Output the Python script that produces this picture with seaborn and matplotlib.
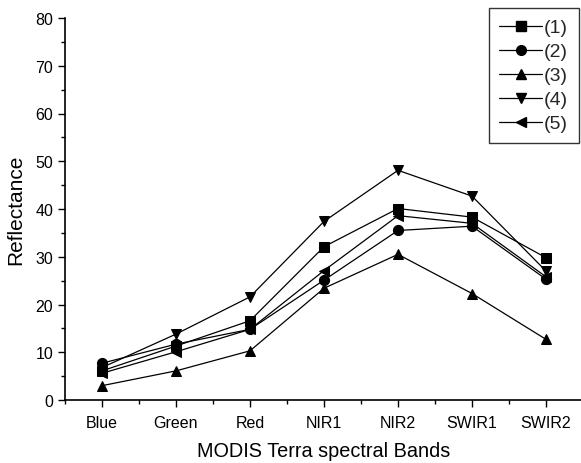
import matplotlib
matplotlib.use("Agg")
import matplotlib.pyplot as plt
import seaborn as sns
import pandas as pd
from matplotlib.ticker import MultipleLocator
from matplotlib.lines import Line2D

bands = ["Blue", "Green", "Red", "NIR1", "NIR2", "SWIR1", "SWIR2"]
s1 = [6.1, 11.3, 16.6, 32.1, 40.1, 38.3, 29.8]
s2 = [7.7, 11.7, 14.8, 25.1, 35.5, 36.4, 25.3]
s3 = [3.0, 6.1, 10.3, 23.4, 30.5, 22.3, 12.7]
s4 = [6.8, 13.8, 21.6, 37.4, 48.1, 42.7, 27.0]
s5 = [5.6, 10.1, 14.8, 27.1, 38.6, 37.0, 25.8]
series_names = ["(1)", "(2)", "(3)", "(4)", "(5)"]
series_vals = [s1, s2, s3, s4, s5]

rows = []
for name, vals in zip(series_names, series_vals):
    for i, (b, v) in enumerate(zip(bands, vals)):
        rows.append({"band": b, "pos": i, "series": name, "value": v})
df = pd.DataFrame(rows)

sns.set_theme(style="ticks")
plt.rcParams["font.family"] = ["Liberation Sans", "DejaVu Sans"]

fig = plt.figure(figsize=(5.81, 4.64), dpi=100)
ax = fig.add_axes([65 / 581, 1 - 401 / 464, 518 / 581, 382 / 464])

markers = {"(1)": "s", "(2)": "o", "(3)": "^", "(4)": "v", "(5)": "<"}
sns.lineplot(data=df, x="pos", y="value", hue="series", style="series",
             markers=markers, dashes=False, palette=["black"] * 5,
             markersize=7.3, linewidth=0.9, markeredgecolor="black", ax=ax,
             legend=False)

ax.set_xlim(-0.5, 6.5)
ax.set_ylim(0, 80)
ax.set_xticks(range(len(bands)))
ax.set_xticklabels(bands)
ax.xaxis.set_minor_locator(MultipleLocator(0.5))
ax.yaxis.set_major_locator(MultipleLocator(10))
ax.yaxis.set_minor_locator(MultipleLocator(5))
ax.tick_params(axis="both", which="major", direction="out", length=5, width=1,
               labelsize=11.5, color="black", labelcolor="black")
ax.tick_params(axis="x", which="major", pad=6)
ax.tick_params(axis="both", which="minor", direction="out", length=3, width=1,
               color="black")
for s in ["top", "right"]:
    ax.spines[s].set_visible(False)
for s in ["left", "bottom"]:
    ax.spines[s].set_color("black")
    ax.spines[s].set_linewidth(1.2)

ax.set_xlabel("MODIS Terra spectral Bands", fontsize=14.3, color="black", labelpad=8)
ax.set_ylabel("Reflectance", fontsize=15, color="black", labelpad=7)

handles = [Line2D([], [], color="black", linewidth=0.9, marker=markers[n],
                  markersize=7, markeredgecolor="black") for n in series_names]
leg = fig.legend(handles, series_names, loc="upper right",
                 bbox_to_anchor=(579 / 581, 1 - 9 / 464), fontsize=14,
                 frameon=True, fancybox=False, handlelength=2.2,
                 handletextpad=0.1, labelspacing=0.33, borderpad=0.55,
                 borderaxespad=0)
leg.get_frame().set_edgecolor("black")
leg.get_frame().set_linewidth(1.0)

fig.savefig("out.png", dpi=100)
